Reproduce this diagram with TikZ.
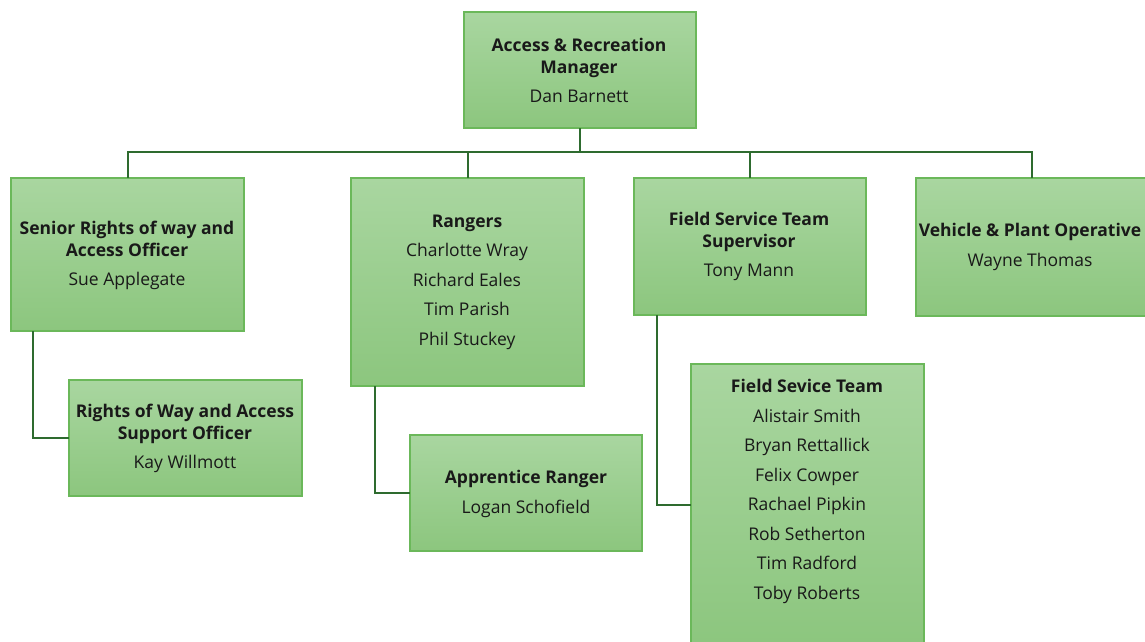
\documentclass[tikz,border=0pt]{standalone}
\usepackage{fontspec}
\setmainfont{Open Sans}
\begin{document}
\begin{tikzpicture}[x=1pt,y=-1pt,
  box/.style={draw=boxline, line width=1.2pt, top color=boxtop, bottom color=boxbot, inner sep=0pt, outer sep=0pt, rectangle},
  txt/.style={align=center, text=black!90, font=\fontsize{17.5}{22}\selectfont, inner sep=0pt},
  conn/.style={draw=connc, line width=2pt}]
\definecolor{boxtop}{HTML}{A9D6A0}
\definecolor{boxbot}{HTML}{8CC67E}
\definecolor{boxline}{HTML}{6BB85A}
\definecolor{connc}{HTML}{2E6B2F}
\useasboundingbox (0,0) rectangle (1145,641);
\fill[white] (0,0) rectangle (1145,641);
% boxes
\node[box, minimum width=232, minimum height=116] (mgr) at (580,70) {};
\node[box, minimum width=233, minimum height=153] (senior) at (127.5,254.5) {};
\node[box, minimum width=233, minimum height=208] (rangers) at (467.5,282) {};
\node[box, minimum width=232, minimum height=137] (fsts) at (750,246.5) {};
\node[box, minimum width=232, minimum height=138] (veh) at (1032,247) {};
\node[box, minimum width=233, minimum height=116] (row) at (185.5,438) {};
\node[box, minimum width=232, minimum height=116] (appr) at (526,493) {};
\node[box, minimum width=233, minimum height=282] (fst) at (807.5,505) {};
% texts
\node[txt] (tmgr) at (579,70) {\textbf{Access \& Recreation}\\\textbf{Manager}\\[7pt]Dan Barnett};
\node[txt] (tsenior) at (127,255) {\textbf{Senior Rights of way and}\\\textbf{Access Officer}\\[7pt]Sue Applegate};
\node[txt] (trangers) at (467,282) {\textbf{Rangers}\\[7.5pt]Charlotte Wray\\[7.5pt]Richard Eales\\[7.5pt]Tim Parish\\[7.5pt]Phil Stuckey};
\node[txt] (tfsts) at (749,246.5) {\textbf{Field Service Team}\\\textbf{Supervisor}\\[7pt]Tony Mann};
\node[txt] (tveh) at (1030,247) {\textbf{Vehicle \& Plant Operative}\\[8pt]Wayne Thomas};
\node[txt] (trow) at (185,438) {\textbf{Rights of Way and Access}\\\textbf{Support Officer}\\[7pt]Kay Willmott};
\node[txt] (tappr) at (526,494) {\textbf{Apprentice Ranger}\\[8pt]Logan Schofield};
\node[txt] (tfst) at (807,491.5) {\textbf{Field Sevice Team}\\[7.5pt]Alistair Smith\\[7.5pt]Bryan Rettallick\\[7.5pt]Felix Cowper\\[7.5pt]Rachael Pipkin\\[7.5pt]Rob Setherton\\[7.5pt]Tim Radford\\[7.5pt]Toby Roberts};
% connectors
\coordinate (bus) at (580,152);
\draw[conn] (mgr.south) -- (bus);
\draw[conn] (bus) -| (senior.north);
\draw[conn] (bus) -| (rangers.north);
\draw[conn] (bus) -| (fsts.north);
\draw[conn] (bus) -| (veh.north);
\coordinate (sdrop) at ([xshift=22pt]senior.south west);
\coordinate (rdrop) at ([xshift=24pt]rangers.south west);
\coordinate (fdrop) at ([xshift=23pt]fsts.south west);
\draw[conn] (sdrop) |- (row.west);
\draw[conn] (rdrop) |- (appr.west);
\draw[conn] (fdrop) |- (fst.west);
\end{tikzpicture}
\end{document}
